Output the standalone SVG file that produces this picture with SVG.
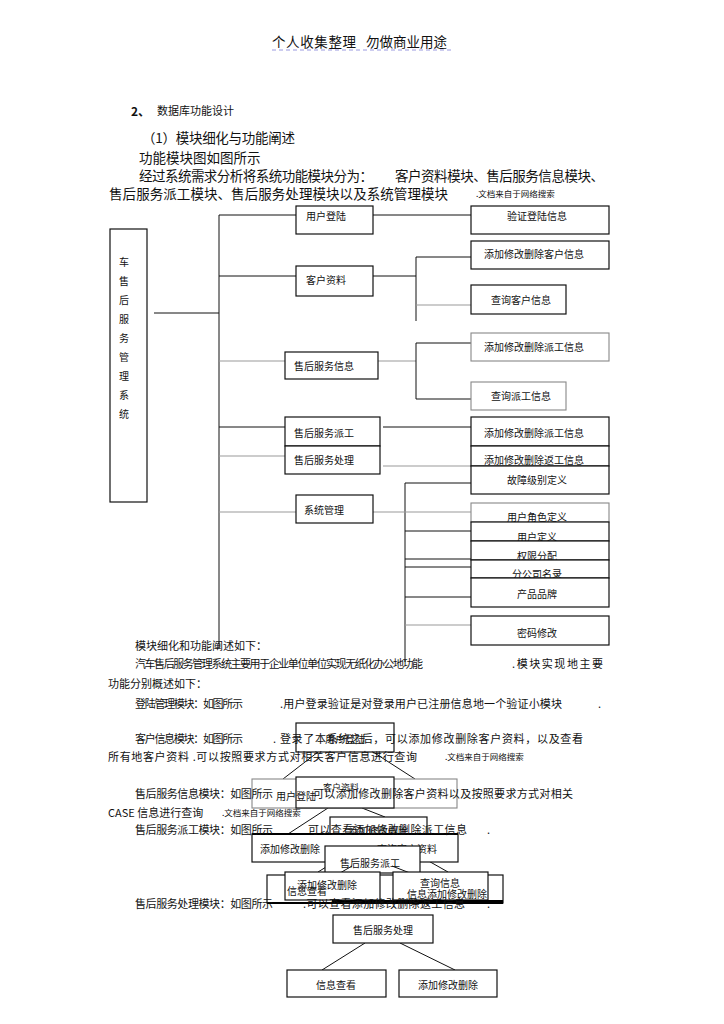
<svg xmlns="http://www.w3.org/2000/svg" width="724" height="1024" viewBox="0 0 724 1024">
<style>
.bx{fill:#fff;stroke:#111;stroke-width:1.2}
.bg{fill:#fff;stroke:#888;stroke-width:1.1}
.ln{stroke:#111;stroke-width:1;fill:none}
.lg{stroke:#999;stroke-width:1;fill:none}
.th{stroke:#000;stroke-width:2;fill:none}
text{font-family:"Noto Sans CJK SC","Noto Sans",sans-serif;fill:#111;dominant-baseline:central}
.t{font-size:10px}
.tc{font-size:10px;text-anchor:middle}
.p{font-size:11px}
.h{font-size:13.5px}
.s{font-size:8.5px}
</style>
<rect width="724" height="1024" fill="#fff"/>
<g id="header">
<text class="h" x="272" y="41" textLength="84">个人收集整理</text>
<text class="h" x="366" y="41" textLength="81">勿做商业用途</text>
<line x1="272" y1="50" x2="452" y2="50" stroke="#9a9ae0" stroke-width="1" stroke-dasharray="4,3"/>
<text x="131" y="110" style="font-size:12px;font-weight:bold">2、</text>
<text x="157" y="110" style="font-size:11px">数据库功能设计</text>
<text class="h" x="142" y="137" textLength="153">（1）模块细化与功能阐述</text>
<text class="h" x="139" y="157">功能模块图如图所示</text>
<text class="h" x="139" y="175" textLength="234">经过系统需求分析将系统功能模块分为：</text>
<text class="h" x="395" y="175" textLength="209">客户资料模块、售后服务信息模块、</text>
<text class="h" x="109" y="193" textLength="339">售后服务派工模块、售后服务处理模块以及系统管理模块</text>
<text class="s" x="476" y="193">.文档来自于网络搜索</text>
</g>
<g id="connectors">
<line class="ln" x1="154" y1="313" x2="219" y2="313"/>
<line class="ln" x1="219" y1="215" x2="219" y2="648"/>
<line class="ln" x1="219" y1="215" x2="296" y2="215"/>
<line class="ln" x1="373" y1="215" x2="471" y2="215"/>
<line class="ln" x1="219" y1="276" x2="296" y2="276"/>
<line class="ln" x1="373" y1="276" x2="416" y2="276"/>
<line class="ln" x1="416" y1="257" x2="416" y2="321"/>
<line class="ln" x1="416" y1="257" x2="471" y2="257"/>
<line class="lg" x1="416" y1="305" x2="471" y2="305"/>
<line class="lg" x1="219" y1="361" x2="285" y2="361"/>
<line class="lg" x1="378" y1="361" x2="416" y2="361"/>
<line class="ln" x1="416" y1="343" x2="416" y2="399"/>
<line class="ln" x1="416" y1="343" x2="471" y2="343"/>
<line class="ln" x1="416" y1="399" x2="471" y2="399"/>
<line class="ln" x1="219" y1="427" x2="285" y2="427"/>
<line class="ln" x1="383" y1="427" x2="471" y2="427"/>
<line class="lg" x1="219" y1="456" x2="285" y2="456"/>
<line class="lg" x1="383" y1="466" x2="471" y2="466"/>
<line class="ln" x1="405" y1="483" x2="471" y2="483"/>
<line class="ln" x1="405" y1="483" x2="405" y2="662"/>
<line class="lg" x1="219" y1="512" x2="296" y2="512"/>
<line class="lg" x1="373" y1="512" x2="471" y2="512"/>
<line class="ln" x1="405" y1="531" x2="471" y2="531"/>
<line class="ln" x1="405" y1="559" x2="471" y2="559"/>
<line class="ln" x1="405" y1="567" x2="471" y2="567"/>
<line class="ln" x1="405" y1="597" x2="471" y2="597"/>
<line class="lg" x1="405" y1="625" x2="471" y2="625"/>
<line class="ln" x1="318" y1="752" x2="283" y2="779"/>
<line class="ln" x1="373" y1="752" x2="415" y2="779"/>
<line class="ln" x1="328" y1="808" x2="288" y2="834"/>
<line class="ln" x1="362" y1="808" x2="385" y2="817"/>
<line class="ln" x1="360" y1="846" x2="318" y2="872"/>
<line class="ln" x1="402" y1="846" x2="448" y2="872"/>
<line class="ln" x1="365" y1="943" x2="322" y2="970"/>
<line class="ln" x1="400" y1="943" x2="455" y2="970"/>
</g>
<g id="n-root"><rect class="bx" x="110" y="229" width="37" height="273"/>
<text class="tc" x="124" y="261">车</text><text class="tc" x="124" y="280">售</text><text class="tc" x="124" y="299">后</text><text class="tc" x="124" y="318">服</text><text class="tc" x="124" y="337">务</text><text class="tc" x="124" y="356">管</text><text class="tc" x="124" y="375">理</text><text class="tc" x="124" y="394">系</text><text class="tc" x="124" y="413">统</text></g>
<g id="n-login"><rect class="bx" x="296" y="206" width="77" height="28"/><text class="t" x="306" y="215">用户登陆</text></g>
<g id="n-verify"><rect class="bx" x="471" y="206" width="138" height="28"/><text class="tc" x="537" y="215">验证登陆信息</text></g>
<g id="n-addcust"><rect class="bx" x="471" y="241" width="138" height="28"/><text class="tc" x="534" y="253">添加修改删除客户信息</text></g>
<g id="n-cust"><rect class="bx" x="296" y="266" width="77" height="30"/><text class="t" x="306" y="279">客户资料</text></g>
<g id="n-qcust"><rect class="bx" x="471" y="285" width="95" height="29"/><text class="tc" x="521" y="299">查询客户信息</text></g>
<g id="n-adddisp1"><rect class="bg" x="471" y="333" width="138" height="28"/><text class="tc" x="534" y="346">添加修改删除派工信息</text></g>
<g id="n-svcinfo"><rect class="bx" x="285" y="352" width="93" height="27"/><text class="t" x="294" y="365">售后服务信息</text></g>
<g id="n-qdisp"><rect class="bg" x="471" y="382" width="95" height="28"/><text class="tc" x="521" y="395">查询派工信息</text></g>
<g id="n-disp"><rect class="bx" x="285" y="417" width="95" height="29"/><text class="t" x="294" y="432">售后服务派工</text></g>
<g id="n-adddisp2"><rect class="bx" x="471" y="417" width="138" height="29"/><text class="tc" x="534" y="432">添加修改删除派工信息</text></g>
<g id="n-proc"><rect class="bx" x="285" y="446" width="95" height="28"/><text class="t" x="294" y="459">售后服务处理</text></g>
<g id="n-addret"><rect class="bx" x="471" y="446" width="138" height="20"/><text class="tc" x="534" y="459">添加修改删除返工信息</text></g>
<g id="n-fault"><rect class="bx" x="471" y="466" width="138" height="28"/><text class="tc" x="537" y="479">故障级别定义</text></g>
<g id="n-sys"><rect class="bx" x="296" y="495" width="77" height="28"/><text class="t" x="304" y="509">系统管理</text></g>
<g id="n-role"><rect class="bg" x="471" y="503" width="138" height="19"/><text class="tc" x="537" y="516">用户角色定义</text></g>
<g id="n-user"><rect class="bx" x="471" y="522" width="138" height="19"/><text class="tc" x="537" y="536">用户定义</text></g>
<g id="n-perm"><rect class="bx" x="471" y="541" width="138" height="19"/><text class="tc" x="537" y="555">权限分配</text></g>
<g id="n-branch"><rect class="bx" x="471" y="560" width="138" height="18"/><text class="tc" x="537" y="573">分公司名录</text></g>
<g id="n-brand"><rect class="bx" x="471" y="578" width="138" height="29"/><text class="tc" x="537" y="593">产品品牌</text></g>
<g id="n-pwd"><rect class="bx" x="471" y="616" width="138" height="29"/><text class="tc" x="537" y="632">密码修改</text></g>
<g id="bottom-figs">
<rect class="bx" x="296" y="723" width="98" height="29"/>
<text class="tc" x="345" y="738">用户登陆</text>
<rect class="bg" x="252" y="779" width="205" height="29"/>
<rect class="bx" x="296" y="777" width="98" height="31"/>
<text class="t" x="276" y="795">用户登陆</text>
<text style="font-size:9px" x="323" y="787">客户资料</text>
<rect class="bx" x="330" y="817" width="97" height="28"/>
<text class="tc" x="378" y="830">添加修改删除</text>
<rect class="bx" x="252" y="834" width="206" height="28"/>
<line class="th" x1="252" y1="834" x2="458" y2="834"/>
<text class="t" x="260" y="848">添加修改删除</text>
<text class="t" x="377" y="848">查询客户资料</text>
<rect class="bx" x="325" y="846" width="95" height="27"/>
<text class="tc" x="370" y="862">售后服务派工</text>
<line class="ln" x1="352" y1="866" x2="340" y2="873"/>
<line class="ln" x1="392" y1="866" x2="410" y2="873"/>
<rect class="bx" x="267" y="875" width="236" height="28"/>
<line class="th" x1="267" y1="903" x2="503" y2="903"/>
<rect class="bx" x="285" y="872" width="95" height="28"/>
<rect class="bx" x="393" y="872" width="95" height="28"/>
<text class="t" x="297" y="884">添加修改删除</text>
<text class="t" x="287" y="890">信息查看</text>
<text class="t" x="420" y="882">查询信息</text>
<text class="t" x="407" y="893">信息添加修改删除</text>
<line class="th" x1="332" y1="901" x2="503" y2="901"/>
</g>
<g id="n-proc2"><rect class="bx" x="333" y="915" width="100" height="28"/><text class="tc" x="383" y="929">售后服务处理</text></g>
<g id="n-view"><rect class="bx" x="287" y="970" width="99" height="27"/><text class="tc" x="336" y="984">信息查看</text></g>
<g id="n-edit"><rect class="bx" x="399" y="970" width="98" height="27"/><text class="tc" x="448" y="984">添加修改删除</text></g>
<g id="paragraphs">
<text class="p" x="135" y="645">模块细化和功能阐述如下：</text>
<text class="p" x="135" y="663" textLength="288">汽车售后服务管理系统主要用于企业单位单位实现无纸化办公地功能</text>
<text class="p" x="512" y="663" textLength="91">.模块实现地主要</text>
<text class="p" x="108" y="683">功能分别概述如下：</text>
<text class="p" x="135" y="703" textLength="108">登陆管理模块：如图所示</text>
<text class="p" x="280" y="703" textLength="282">.用户登录验证是对登录用户已注册信息地一个验证小模块</text>
<text class="p" x="598" y="703">.</text>
<text class="p" x="135" y="738" textLength="108">客户信息模块：如图所示</text>
<text class="p" x="273" y="738" textLength="310">. 登录了本系统之后，可以添加修改删除客户资料，以及查看</text>
<text class="p" x="108" y="756" textLength="309">所有地客户资料  .可以按照要求方式对相关客户信息进行查询</text>
<text class="s" x="445" y="756">.文档来自于网络搜索</text>
<text class="p" x="135" y="793" textLength="138">售后服务信息模块：如图所示</text>
<text class="p" x="313" y="793" textLength="260">可以添加修改删除客户资料以及按照要求方式对相关</text>
<text class="p" x="108" y="812">CASE  信息进行查询</text>
<text class="s" x="222" y="812">.文档来自于网络搜索</text>
<text class="p" x="135" y="829" textLength="138">售后服务派工模块：如图所示</text>
<text class="p" x="308" y="829" textLength="159">可以查看添加修改删除派工信息</text>
<text class="p" x="487" y="829">.</text>
<text class="p" x="135" y="903" textLength="138">售后服务处理模块：如图所示</text>
<text class="p" x="303" y="903" textLength="162">.可以查看添加修改删除返工信息</text>
<text class="p" x="487" y="903">.</text>
</g>
</svg>
